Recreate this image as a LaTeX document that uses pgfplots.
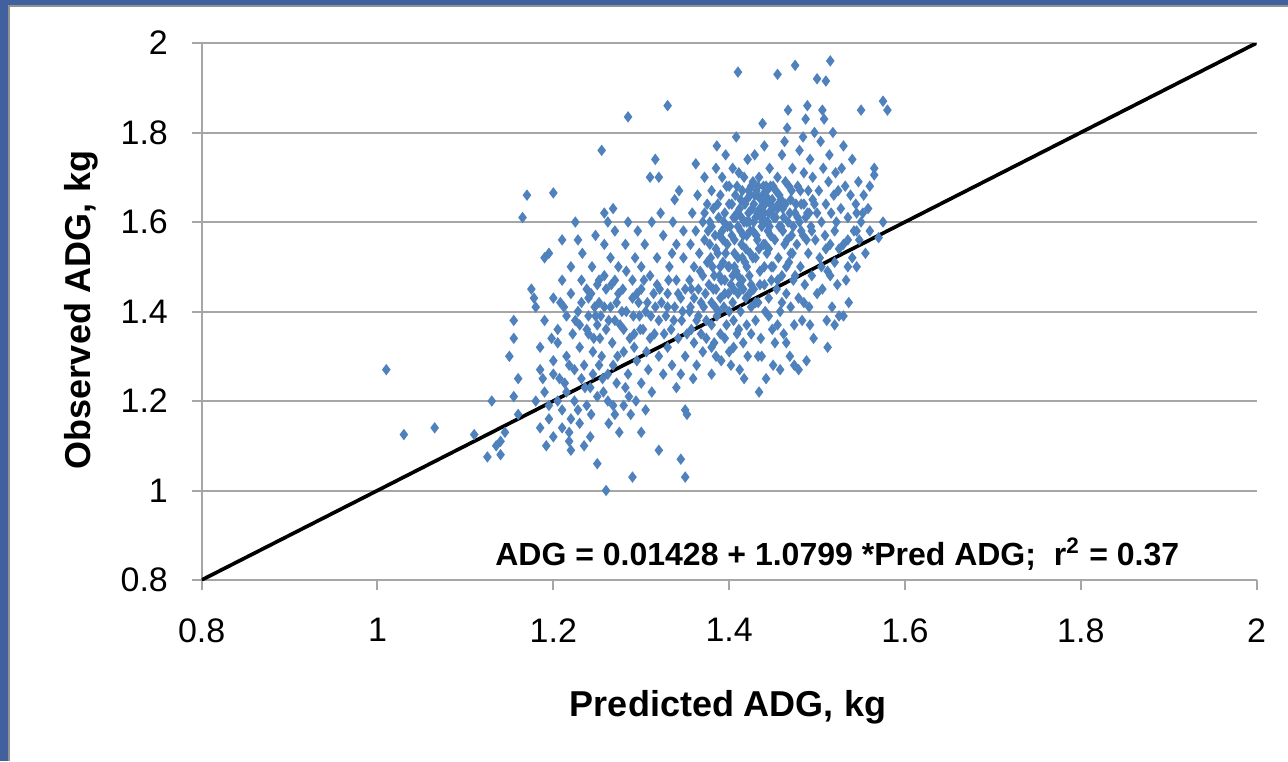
\documentclass[border=0pt]{standalone}
\usepackage{pgfplots}
\pgfplotsset{compat=1.18}
\usepackage{fontspec}
\setmainfont{Liberation Sans}
\definecolor{ptblue}{HTML}{4F81BD}
\definecolor{frameblue}{HTML}{41609E}
\definecolor{gridgray}{HTML}{A6A6A6}

\pgfplotstableread{
x y
1.010 1.270
1.030 1.125
1.065 1.140
1.110 1.125
1.125 1.075
1.130 1.200
1.135 1.100
1.140 1.110
1.140 1.080
1.145 1.130
1.150 1.300
1.155 1.340
1.155 1.380
1.160 1.250
1.165 1.610
1.170 1.660
1.160 1.170
1.155 1.210
1.175 1.450
1.178 1.430
1.180 1.410
1.185 1.320
1.185 1.270
1.188 1.250
1.190 1.520
1.195 1.530
1.190 1.380
1.190 1.220
1.195 1.190
1.195 1.160
1.198 1.340
1.200 1.290
1.200 1.260
1.200 1.120
1.200 1.430
1.200 1.665
1.192 1.100
1.185 1.140
1.180 1.200
1.205 1.360
1.205 1.330
1.207 1.250
1.210 1.180
1.210 1.140
1.210 1.470
1.212 1.410
1.215 1.390
1.215 1.300
1.215 1.220
1.218 1.130
1.220 1.090
1.220 1.500
1.220 1.440
1.222 1.350
1.224 1.270
1.224 1.200
1.225 1.600
1.210 1.560
1.213 1.240
1.218 1.110
1.208 1.420
1.220 1.160
1.228 1.400
1.230 1.370
1.230 1.320
1.230 1.150
1.232 1.470
1.233 1.530
1.235 1.280
1.236 1.230
1.238 1.190
1.240 1.430
1.240 1.390
1.240 1.350
1.242 1.120
1.244 1.500
1.245 1.310
1.245 1.260
1.247 1.410
1.248 1.570
1.250 1.460
1.250 1.370
1.250 1.210
1.250 1.060
1.235 1.100
1.243 1.170
1.228 1.560
1.238 1.450
1.246 1.340
1.232 1.250
1.252 1.420
1.254 1.390
1.255 1.760
1.255 1.300
1.256 1.250
1.258 1.620
1.258 1.480
1.260 1.000
1.260 1.450
1.260 1.360
1.262 1.200
1.263 1.150
1.265 1.520
1.265 1.410
1.267 1.330
1.268 1.280
1.270 1.580
1.270 1.380
1.270 1.170
1.272 1.240
1.274 1.500
1.274 1.440
1.275 1.130
1.258 1.550
1.262 1.600
1.268 1.630
1.253 1.340
1.270 1.470
1.257 1.220
1.278 1.400
1.280 1.360
1.280 1.310
1.282 1.550
1.283 1.490
1.285 1.835
1.285 1.260
1.286 1.210
1.288 1.170
1.290 1.470
1.290 1.430
1.290 1.030
1.292 1.350
1.293 1.520
1.295 1.290
1.296 1.580
1.298 1.390
1.300 1.450
1.300 1.240
1.300 1.500
1.300 1.130
1.280 1.190
1.285 1.600
1.292 1.320
1.297 1.420
1.302 1.360
1.304 1.550
1.305 1.400
1.306 1.310
1.308 1.270
1.310 1.700
1.310 1.480
1.312 1.220
1.314 1.440
1.315 1.350
1.316 1.740
1.318 1.520
1.320 1.380
1.320 1.300
1.320 1.090
1.322 1.620
1.323 1.420
1.325 1.260
1.325 1.570
1.305 1.180
1.310 1.340
1.318 1.460
1.320 1.700
1.312 1.600
1.330 1.860
1.328 1.390
1.330 1.440
1.330 1.320
1.332 1.500
1.334 1.360
1.335 1.280
1.336 1.600
1.338 1.410
1.340 1.470
1.340 1.550
1.340 1.230
1.342 1.340
1.343 1.670
1.345 1.430
1.345 1.070
1.346 1.380
1.348 1.520
1.350 1.030
1.350 1.300
1.350 1.450
1.350 1.180
1.352 1.170
1.335 1.530
1.338 1.650
1.345 1.260
1.330 1.410
1.348 1.580
1.355 1.400
1.355 1.470
1.356 1.550
1.357 1.360
1.358 1.620
1.360 1.430
1.360 1.330
1.360 1.500
1.362 1.580
1.363 1.280
1.364 1.660
1.365 1.390
1.365 1.450
1.366 1.530
1.368 1.420
1.368 1.350
1.370 1.600
1.370 1.480
1.370 1.310
1.372 1.700
1.372 1.560
1.373 1.440
1.374 1.380
1.375 1.510
1.375 1.640
1.362 1.730
1.356 1.410
1.359 1.250
1.367 1.490
1.371 1.410
1.374 1.340
1.377 1.460
1.378 1.550
1.378 1.600
1.380 1.420
1.380 1.370
1.380 1.670
1.381 1.500
1.382 1.630
1.383 1.330
1.384 1.570
1.385 1.450
1.385 1.720
1.386 1.390
1.387 1.530
1.388 1.610
1.389 1.480
1.390 1.430
1.390 1.350
1.390 1.660
1.391 1.290
1.392 1.580
1.393 1.510
1.394 1.410
1.395 1.470
1.395 1.620
1.396 1.750
1.397 1.370
1.398 1.550
1.399 1.440
1.400 1.640
1.400 1.500
1.400 1.310
1.400 1.680
1.380 1.260
1.386 1.770
1.392 1.700
1.398 1.590
1.383 1.480
1.388 1.400
1.393 1.560
1.402 1.460
1.403 1.570
1.404 1.420
1.405 1.610
1.405 1.380
1.406 1.530
1.407 1.660
1.408 1.490
1.409 1.350
1.410 1.590
1.410 1.440
1.410 1.935
1.411 1.710
1.412 1.630
1.413 1.400
1.414 1.550
1.415 1.470
1.415 1.670
1.416 1.330
1.417 1.600
1.418 1.510
1.419 1.430
1.420 1.650
1.420 1.570
1.420 1.370
1.421 1.740
1.422 1.620
1.423 1.480
1.424 1.530
1.425 1.410
1.425 1.680
1.402 1.280
1.408 1.790
1.413 1.580
1.418 1.640
1.423 1.600
1.406 1.500
1.411 1.360
1.416 1.450
1.421 1.300
1.404 1.720
1.417 1.250
1.424 1.660
1.409 1.620
1.427 1.580
1.428 1.640
1.428 1.450
1.430 1.610
1.430 1.520
1.430 1.380
1.431 1.670
1.432 1.560
1.433 1.420
1.434 1.700
1.435 1.630
1.435 1.490
1.436 1.340
1.437 1.590
1.438 1.660
1.439 1.550
1.440 1.460
1.440 1.620
1.440 1.770
1.441 1.400
1.442 1.680
1.443 1.530
1.444 1.600
1.445 1.650
1.445 1.430
1.446 1.720
1.447 1.570
1.448 1.500
1.449 1.360
1.450 1.630
1.450 1.680
1.450 1.280
1.429 1.750
1.433 1.300
1.438 1.820
1.442 1.250
1.447 1.640
1.436 1.610
1.440 1.660
1.444 1.580
1.432 1.660
1.427 1.690
1.448 1.470
1.434 1.220
1.441 1.550
1.452 1.560
1.453 1.610
1.454 1.450
1.455 1.930
1.455 1.700
1.456 1.520
1.457 1.660
1.458 1.400
1.459 1.590
1.460 1.750
1.460 1.480
1.461 1.630
1.462 1.350
1.463 1.550
1.464 1.690
1.465 1.440
1.466 1.810
1.467 1.600
1.468 1.510
1.469 1.300
1.470 1.650
1.470 1.410
1.471 1.570
1.472 1.720
1.473 1.470
1.474 1.370
1.475 1.950
1.475 1.620
1.458 1.270
1.463 1.780
1.467 1.850
1.472 1.530
1.456 1.640
1.461 1.580
1.468 1.680
1.474 1.280
1.452 1.330
1.477 1.550
1.478 1.680
1.479 1.430
1.480 1.600
1.480 1.760
1.481 1.500
1.482 1.640
1.483 1.380
1.484 1.570
1.485 1.710
1.486 1.460
1.487 1.830
1.488 1.290
1.489 1.620
1.490 1.530
1.490 1.670
1.491 1.410
1.492 1.740
1.493 1.590
1.494 1.480
1.495 1.650
1.496 1.340
1.497 1.800
1.498 1.560
1.500 1.920
1.500 1.620
1.500 1.440
1.479 1.270
1.484 1.790
1.489 1.860
1.495 1.700
1.481 1.670
1.487 1.610
1.502 1.670
1.503 1.520
1.504 1.780
1.505 1.600
1.506 1.450
1.507 1.720
1.508 1.830
1.509 1.570
1.510 1.915
1.510 1.640
1.511 1.380
1.512 1.490
1.513 1.690
1.514 1.750
1.515 1.960
1.515 1.550
1.516 1.620
1.517 1.410
1.518 1.800
1.519 1.660
1.520 1.510
1.520 1.370
1.521 1.710
1.522 1.600
1.523 1.460
1.524 1.670
1.525 1.390
1.506 1.850
1.512 1.320
1.527 1.630
1.528 1.720
1.530 1.550
1.530 1.770
1.532 1.680
1.533 1.470
1.535 1.610
1.536 1.420
1.538 1.660
1.540 1.520
1.540 1.740
1.542 1.580
1.544 1.640
1.545 1.500
1.547 1.690
1.548 1.560
1.550 1.850
1.550 1.600
1.530 1.390
1.535 1.500
1.545 1.620
1.553 1.660
1.555 1.530
1.558 1.630
1.560 1.680
1.565 1.720
1.565 1.705
1.570 1.565
1.575 1.870
1.575 1.600
1.580 1.850
1.560 1.580
1.372 1.620
1.376 1.580
1.379 1.520
1.382 1.450
1.384 1.410
1.387 1.640
1.389 1.570
1.391 1.470
1.394 1.600
1.396 1.530
1.397 1.680
1.399 1.500
1.401 1.590
1.403 1.640
1.404 1.480
1.406 1.560
1.407 1.610
1.409 1.680
1.410 1.520
1.412 1.460
1.413 1.650
1.414 1.610
1.416 1.570
1.417 1.700
1.419 1.540
1.420 1.600
1.422 1.670
1.423 1.440
1.424 1.580
1.426 1.630
1.427 1.520
1.428 1.600
1.429 1.660
1.431 1.570
1.432 1.620
1.433 1.680
1.434 1.540
1.436 1.650
1.437 1.630
1.438 1.600
1.439 1.680
1.441 1.640
1.442 1.600
1.443 1.670
1.445 1.620
1.446 1.590
1.447 1.680
1.449 1.650
1.451 1.610
1.453 1.670
1.455 1.630
1.457 1.590
1.459 1.650
1.462 1.610
1.464 1.640
1.466 1.560
1.469 1.620
1.471 1.670
1.473 1.590
1.476 1.640
1.478 1.610
1.482 1.580
1.485 1.640
1.488 1.560
1.491 1.620
1.494 1.580
1.497 1.640
1.380 1.590
1.385 1.540
1.390 1.500
1.395 1.440
1.400 1.400
1.405 1.450
1.410 1.480
1.415 1.520
1.420 1.500
1.425 1.460
1.430 1.420
1.435 1.460
1.440 1.500
1.445 1.540
1.450 1.500
1.455 1.470
1.460 1.420
1.465 1.500
1.470 1.530
1.475 1.480
1.380 1.320
1.385 1.300
1.395 1.340
1.405 1.320
1.412 1.270
1.425 1.350
1.437 1.300
1.445 1.390
1.455 1.370
1.465 1.330
1.485 1.420
1.492 1.370
1.505 1.500
1.515 1.480
1.525 1.540
1.535 1.560
1.545 1.580
1.552 1.620
1.520 1.580
1.510 1.540
1.225 1.380
1.232 1.420
1.238 1.360
1.243 1.440
1.248 1.390
1.252 1.470
1.258 1.410
1.263 1.380
1.266 1.460
1.272 1.420
1.276 1.370
1.279 1.450
1.283 1.400
1.287 1.340
1.291 1.390
1.295 1.440
1.299 1.360
1.303 1.470
1.307 1.420
1.311 1.390
1.316 1.410
1.321 1.450
1.326 1.350
1.331 1.470
1.337 1.380
1.342 1.440
1.347 1.400
1.352 1.350
1.357 1.450
1.363 1.380
1.242 1.230
1.252 1.280
1.262 1.260
1.273 1.300
1.218 1.280
1.205 1.200
1.228 1.180
1.268 1.190
1.282 1.230
1.294 1.200
}\adgdata

\begin{document}
\begin{tikzpicture}[x=0.3pt,y=0.3pt]
\fill[frameblue] (0,0) rectangle (1288,761);
\fill[gray!85] (8,0) rectangle (1288,756);
\fill[white] (10,0) rectangle (1288,754);
\useasboundingbox (0,0) rectangle (1288,761);
\begin{axis}[
    at={(60.5pt,54.3pt)}, anchor=south west,
    scale only axis,
    width=316.5pt, height=161.1pt,
    xmin=0.8, xmax=2, ymin=0.8, ymax=2,
    xtick={0.8,1,1.2,1.4,1.6,1.8,2},
    ytick={0.8,1,1.2,1.4,1.6,1.8,2},
    axis x line*=bottom, axis y line*=left,
    axis line style={gridgray, line width=0.6pt, -},
    ymajorgrids,
    major grid style={gridgray, line width=0.6pt},
    tick align=outside,
    major tick length=3pt,
    tick style={gridgray, line width=0.6pt},
    tick label style={font=\fontsize{10.2}{12}\selectfont, text=black},
    /pgf/number format/assume math mode=true,
    y tick label style={xshift=-3.6pt},
    x tick label style={yshift=-5pt},
]
\addplot[only marks, mark=diamond*, mark size=1.35pt,
    mark options={fill=ptblue, draw=ptblue, line width=0.45pt}] table {\adgdata};
\addplot[black, line width=1.1pt] coordinates {(0.8,0.8) (2,2)};
\node[font=\bfseries\fontsize{9.6}{11}\selectfont] at (axis cs:1.523,0.858)
    {ADG = 0.01428 + 1.0799 *Pred ADG;\ \ r\textsuperscript{2} = 0.37};
\end{axis}
\node[font=\bfseries\fontsize{10.8}{13}\selectfont, anchor=base] at (728,45) {Predicted ADG, kg};
\node[font=\bfseries\fontsize{10.8}{13}\selectfont, anchor=base, rotate=90] at (91,451) {Observed ADG, kg};
\end{tikzpicture}
\end{document}
